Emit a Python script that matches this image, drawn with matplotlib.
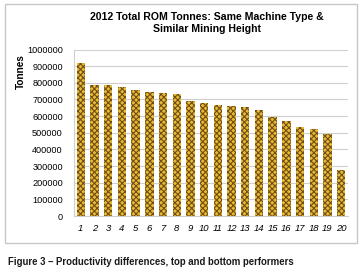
import matplotlib
matplotlib.use('Agg')
import matplotlib.pyplot as plt
from matplotlib.patches import Rectangle

plt.rcParams['font.family'] = ['Liberation Sans', 'DejaVu Sans']
plt.rcParams['hatch.linewidth'] = 0.8

machines = [str(i) for i in range(1, 21)]
tonnes = [916000, 788000, 788000, 772000, 756000, 746000, 738000, 732000,
          688000, 676000, 666000, 660000, 654000, 636000, 596000, 572000,
          532000, 520000, 490000, 276000]
yticks = list(range(0, 1000001, 100000))

fig = plt.figure(figsize=(3.64, 2.74), dpi=100)
ax = fig.add_axes([74 / 364, 1 - 216 / 274, (348 - 74) / 364, (216 - 49.5) / 274])

# hatch takes the edge colour, the outline itself is switched off
ax.bar(range(len(tonnes)), tonnes, width=0.62, color='#eab935',
       edgecolor='#6e5016', hatch='xxxxxx', linewidth=0, zorder=3)
ax.set_xlim(-0.5, len(tonnes) - 0.5)
ax.set_ylim(0, 1000000)
ax.set_yticks(yticks)
ax.set_yticklabels([str(v) for v in yticks], fontsize=6.6)
ax.set_xticks(range(len(machines)))
ax.set_xticklabels(machines, fontsize=6.8, style='italic')
ax.tick_params(length=0, pad=6)
ax.tick_params(axis='y', pad=8)
ax.yaxis.grid(True, color='#cfcfcf', linewidth=0.8, zorder=0)
for side in ['top', 'right']:
    ax.spines[side].set_visible(False)
for side in ['left', 'bottom']:
    ax.spines[side].set_color('#cfcfcf')
    ax.spines[side].set_linewidth(0.8)

fig.text(21 / 364, 1 - 72 / 274, 'Tonnes', rotation=90, ha='center', va='center',
         fontsize=7.2, fontweight='bold')

fig.text(207 / 364, 1 - 23 / 274, '2012 Total ROM Tonnes: Same Machine Type &\nSimilar Mining Height',
         ha='center', va='center', fontsize=7.6, fontweight='bold', linespacing=1.25)

fig.patches.append(Rectangle((5 / 364, 1 - 243 / 274), 352 / 364, 239 / 274,
                             transform=fig.transFigure, fill=False,
                             edgecolor='#c8c8c8', linewidth=1.0))

fig.text(8 / 364, 1 - 262 / 274, 'Figure 3 \u2013 Productivity differences, top and bottom performers',
         ha='left', va='center', fontsize=6.9, fontweight='bold', color='#1a1a1a')

fig.savefig('out.png', dpi=100)
